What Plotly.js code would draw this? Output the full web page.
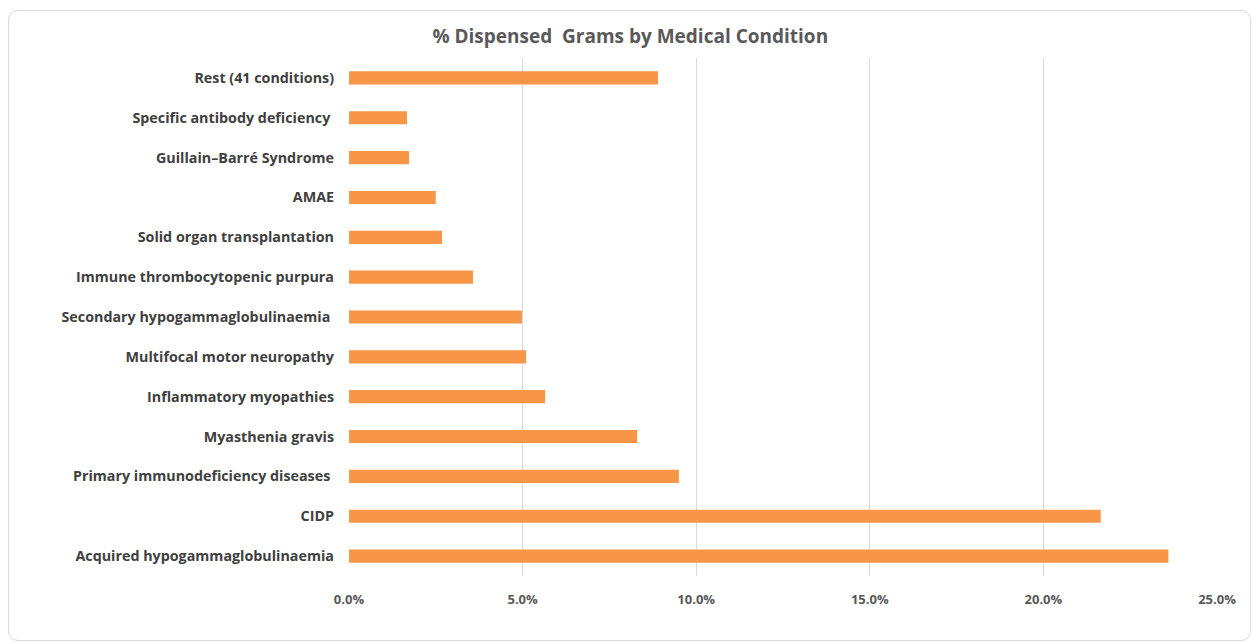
<!DOCTYPE html>
<html>
<head>
<meta charset="utf-8">
<script src="https://cdn.plot.ly/plotly-3.0.1.min.js"></script>
<style>
  html, body { margin: 0; padding: 0; background: #ffffff; }
  #wrap { position: relative; width: 1253px; height: 642px; }
  #chart { position: absolute; left: 0; top: 0; width: 1253px; height: 642px; }
  #frame {
    position: absolute; left: 8px; top: 10px; width: 1241px; height: 629px;
    border: 1px solid #d9d9d9; border-radius: 10px; pointer-events: none;
  }
</style>
</head>
<body>
<div id="wrap">
  <div id="chart"></div>
  <div id="frame"></div>
</div>
<script>
// Share of dispensed grams per medical condition (bottom to top)
const conditions = [
  "Acquired hypogammaglobulinaemia",
  "CIDP",
  "Primary immunodeficiency diseases ",
  "Myasthenia gravis",
  "Inflammatory myopathies",
  "Multifocal motor neuropathy",
  "Secondary hypogammaglobulinaemia ",
  "Immune thrombocytopenic purpura",
  "Solid organ transplantation",
  "AMAE",
  "Guillain\u2013Barr\u00e9 Syndrome",
  "Specific antibody deficiency ",
  "Rest (41 conditions)"
];
const sharePct = [23.6, 21.65, 9.5, 8.3, 5.65, 5.1, 4.98, 3.57, 2.68, 2.5, 1.73, 1.67, 8.9];
const tickValues = [0, 5, 10, 15, 20, 25];
const tickLabels = ["0.0%", "5.0%", "10.0%", "15.0%", "20.0%", "25.0%"];

const labelFont = { family: "Open Sans, sans-serif", size: 14.3, color: "#404040", weight: 700 };

Plotly.newPlot("chart", [{
  type: "bar",
  orientation: "h",
  y: conditions,
  x: sharePct,
  marker: { color: "#F79646" },
  hoverinfo: "skip"
}], {
  width: 1253,
  height: 642,
  margin: { l: 349, r: 36, t: 58, b: 66 },
  paper_bgcolor: "#ffffff",
  plot_bgcolor: "#ffffff",
  bargap: 0.67,
  showlegend: false,
  title: {
    text: "% Dispensed  Grams by Medical Condition",
    font: { family: "Open Sans, sans-serif", size: 19, color: "#595959", weight: 700 },
    x: 0.503, xanchor: "center",
    y: 0.944, yanchor: "middle"
  },
  xaxis: {
    range: [0, 25],
    tickvals: tickValues,
    ticktext: tickLabels,
    showgrid: true,
    gridcolor: "#d9d9d9",
    gridwidth: 1,
    zeroline: false,
    showline: false,
    ticks: "",
    ticklabelstandoff: 14,
    tickfont: { family: "Open Sans, sans-serif", size: 13, color: "#595959", weight: 700 },
    fixedrange: true
  },
  yaxis: {
    type: "category",
    categoryorder: "array",
    categoryarray: conditions,
    showgrid: false,
    zeroline: false,
    showline: false,
    ticks: "",
    ticklabelstandoff: 14,
    tickfont: labelFont,
    fixedrange: true
  }
}, { displayModeBar: false, staticPlot: true });
</script>
</body>
</html>
